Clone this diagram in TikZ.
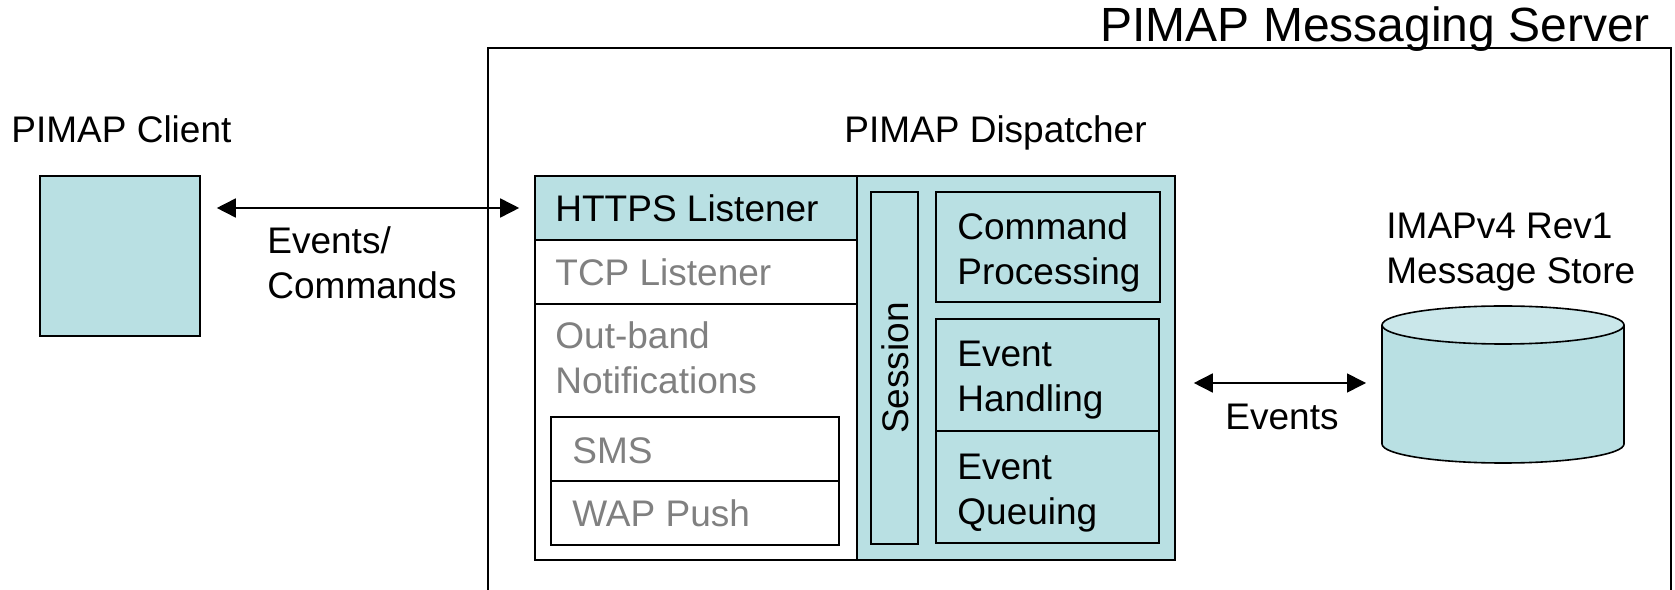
\documentclass[tikz,border=0pt]{standalone}
\usepackage{fontspec}
\setmainfont{Liberation Sans}
\usetikzlibrary{arrows.meta,fit}
\definecolor{pimapteal}{RGB}{185,224,227}
\definecolor{pimaptop}{RGB}{202,231,234}
\definecolor{pimapgrey}{RGB}{128,128,128}
\tikzset{
    box/.style={draw, line width=0.8pt, inner sep=0pt},
    tealbox/.style={box, fill=pimapteal},
    whitebox/.style={box, fill=white},
    txt/.style={inner sep=0pt, align=left, font=\fontsize{18.5}{22.5}\selectfont},
    greytxt/.style={txt, text=pimapgrey},
}
\begin{document}
\begin{tikzpicture}[x=0.5pt, y=0.5pt, >={Triangle[length=9.5pt,width=9.5pt]}]
    \useasboundingbox (0,0) rectangle (1675,589);
    % Server
    \node[box, fit={(488,-20) (1671,541)}] (server) {};
    \node[anchor=base west, inner sep=0pt, font=\fontsize{24}{29}\selectfont] (servertitle) at (1100,547) {PIMAP Messaging Server};
    % Client
    \node[txt, anchor=base west] (clienttitle) at (11,446) {PIMAP Client};
    \node[tealbox, fit={(40,253) (200,413)}] (client) {};
    % Dispatcher
    \node[txt, anchor=base west] (disptitle) at (844,446) {PIMAP Dispatcher};
    \node[tealbox, fit={(535,29) (1175,413)}] (disp) {};
    \node[whitebox, fit={(535,29) (857,413)}] (listeners) {};
    \node[tealbox, fit={(535,349) (857,413)}] (https) {};
    \node[whitebox, fit={(535,285) (857,349)}] (tcp) {};
    \node[whitebox, fit={(551,108) (839,172)}] (sms) {};
    \node[whitebox, fit={(551,44) (839,108)}] (wap) {};
    \node[tealbox, fit={(871,45) (918,397)}] (session) {};
    \node[tealbox, fit={(936,287) (1160,397)}] (cmd) {};
    \node[tealbox, fit={(936,158) (1159,270)}] (evhandle) {};
    \node[tealbox, fit={(936,46) (1159,158)}] (evqueue) {};
    \node[txt, anchor=base west] (httpstxt) at (555,367) {HTTPS Listener};
    \node[greytxt, anchor=base west] (tcptxt) at (555,303) {TCP Listener};
    \node[greytxt, anchor=west] (outbandtxt) at (555,231) {Out-band\\Notifications};
    \node[greytxt, anchor=base west] (smstxt) at (572,126) {SMS};
    \node[greytxt, anchor=base west] (waptxt) at (572,62) {WAP Push};
    \node[txt, rotate=90] (sessiontxt) at (895,221) {Session};
    \node[txt, anchor=west] (cmdtxt) at (957,337) {Command\\Processing};
    \node[txt, anchor=west] (evhandletxt) at (957,209) {Event\\Handling};
    \node[txt, anchor=west] (evqueuetxt) at (957,96) {Event\\Queuing};
    % Message store
    \node[txt, anchor=west] (storetxt) at (1386,337) {IMAPv4 Rev1\\Message Store};
    \fill[pimapteal] (1382,264) -- (1382,145) arc[start angle=180, end angle=360, x radius=121, y radius=19] -- (1624,264) -- cycle;
    \draw[line width=0.8pt] (1382,264) -- (1382,145) arc[start angle=180, end angle=360, x radius=121, y radius=19] -- (1624,264);
    \draw[line width=0.8pt, fill=pimaptop] (1503,264) ellipse [x radius=121, y radius=19];
    \coordinate (store) at (1382,206);
    % Arrows
    \draw[<->, line width=0.8pt, shorten <=8pt, shorten >=7.5pt] (https.west -| client.east) -- (https.west);
    \node[txt, anchor=west] (cmdlbl) at (267,326) {Events/\\Commands};
    \draw[<->, line width=0.8pt, shorten <=9pt, shorten >=8pt] (store -| disp.east) -- (store);
    \node[txt, anchor=base] (evlbl) at (1282,159) {Events};
\end{tikzpicture}
\end{document}
